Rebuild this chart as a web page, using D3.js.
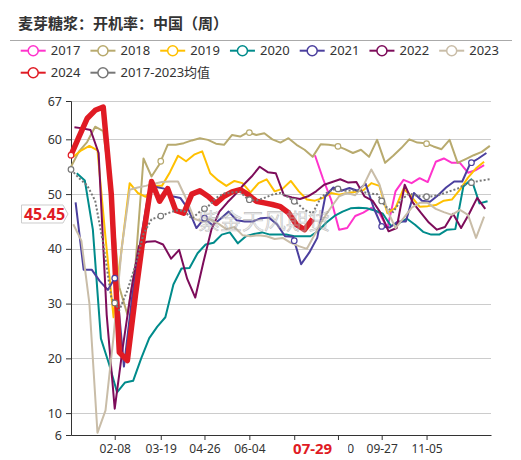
<!DOCTYPE html>
<html>
<head>
<meta charset="utf-8">
<script src="https://cdn.jsdelivr.net/npm/d3@7"></script>
<style>
  body { margin: 0; background: #fff; }
  svg { display: block; font-family: "Noto Sans", "Noto Sans CJK SC", sans-serif; }
</style>
</head>
<body>
<div id="chart"></div>
<script>
// weekly operating rate, one array per year, first report date in startDates
const seriesNames = ["2017", "2018", "2019", "2020", "2021", "2022", "2023", "2024", "2017-2023均值"];
const startDates = ["07-31", "01-01", "01-03", "01-06", "01-05", "01-04", "01-03", "01-01", "01-01"];

const v2017 = [57.1, 52.8, 49.0, 43.5, 43.8, 46.0, 46.6, 47.5, 46.5, 43.8, 50.5, 52.6, 52.0, 52.9, 52.2, 55.9,
  56.5, 55.7, 55.7, 53.9, 54.4, 55.3];
const v2018 = [55.0, 57.8, 59.5, 62.3, 61.5, 50.0, 33.0, 28.0, 37.0, 56.5, 53.2, 55.5, 59.0, 59.0, 59.3, 59.8,
  60.2, 59.9, 59.2, 59.0, 60.8, 60.5, 61.3, 60.8, 61.1, 60.0, 59.4, 60.2, 59.0, 58.1, 56.8, 59.1, 59.0, 58.8,
  58.2, 57.5, 58.1, 56.8, 59.9, 55.7, 57.0, 58.4, 60.0, 59.4, 59.3, 58.7, 58.2, 59.9, 55.7, 56.4, 57.1, 57.7, 58.8];
const v2019 = [56.8, 58.0, 58.8, 58.0, 42.0, 27.5, 40.0, 52.0, 50.2, 49.5, 51.5, 51.5, 54.0, 57.0, 56.0, 57.2,
  57.8, 53.8, 52.5, 51.5, 52.4, 52.0, 50.3, 52.0, 52.7, 50.5, 51.0, 52.4, 50.5, 49.0, 48.8, 49.3, 50.2, 49.9,
  50.2, 50.4, 50.7, 52.0, 51.5, 46.5, 47.5, 51.0, 49.5, 47.7, 47.8, 48.0, 48.8, 49.0, 50.8, 53.0, 54.7, 55.9];
const v2020 = [53.8, 52.5, 43.5, 23.6, 19.0, 13.8, 15.6, 15.9, 20.0, 23.7, 25.8, 27.5, 33.5, 36.4, 36.5, 39.2,
  40.8, 41.1, 42.6, 43.0, 41.0, 42.3, 42.7, 43.0, 42.6, 42.6, 42.6, 42.3, 42.3, 42.3, 43.3, 44.8, 46.0, 46.8,
  47.4, 47.5, 47.4, 47.0, 46.4, 44.2, 44.7, 45.5, 44.4, 43.1, 42.6, 42.6, 43.5, 43.6, 51.4, 52.7, 48.3, 48.7];
const v2021 = [48.5, 36.2, 36.2, 34.1, 32.5, 35.0, 18.5, 31.0, 41.0, 49.7, 51.3, 51.0, 49.6, 49.3, 47.2, 43.8,
  45.6, 44.3, 45.5, 46.8, 45.2, 45.0, 45.0, 45.6, 45.7, 44.5, 42.3, 42.2, 37.2, 39.3, 42.0, 49.6, 51.2, 50.6,
  51.1, 50.6, 51.9, 47.5, 44.1, 43.9, 45.0, 45.0, 50.2, 48.8, 48.6, 49.8, 51.2, 52.3, 52.3, 55.6, 56.5, 57.5];
const v2022 = [62.2, 62.0, 61.7, 57.5, 28.0, 10.8, 22.0, 32.0, 40.5, 41.3, 41.4, 40.8, 38.2, 39.8, 34.5, 31.1,
  37.5, 43.5, 46.8, 48.5, 50.0, 51.7, 53.2, 55.0, 54.0, 53.8, 49.8, 49.4, 49.1, 49.6, 50.5, 51.7, 52.2, 52.7,
  52.1, 52.2, 49.6, 48.8, 46.6, 43.2, 43.8, 51.7, 48.5, 46.6, 44.8, 43.5, 44.0, 46.4, 43.8, 46.4, 49.3, 47.3];
const v2023 = [44.5, 41.5, 30.0, 6.4, 10.5, 24.0, 40.0, 50.8, 51.2, 51.5, 51.9, 52.2, 52.3, 52.3, 49.2, 45.5,
  45.0, 45.4, 44.6, 43.6, 44.0, 42.5, 42.3, 42.5, 42.3, 41.8, 42.0, 41.1, 40.5, 40.0, 42.7, 45.4, 47.6, 49.6,
  50.2, 49.8, 51.5, 54.5, 51.8, 47.0, 43.8, 45.6, 47.5, 48.4, 48.4, 47.3, 46.7, 46.2, 47.1, 46.2, 42.0, 45.9];
const v2024 = [57.1, 60.5, 63.8, 65.3, 65.9, 50.0, 21.1, 19.6, 31.5, 42.5, 52.3, 48.7, 51.0, 47.0, 46.5, 50.0,
  50.6, 49.6, 48.3, 49.6, 50.4, 50.8, 49.9, 48.7, 48.4, 48.1, 47.7, 46.6, 44.4, 43.5, 45.45];
const vAvg = [54.5, 52.9, 51.6, 48.8, 41.0, 31.1, 28.8, 32.4, 37.0, 42.7, 45.4, 45.9, 46.5, 47.0, 47.0, 45.5,
  46.8, 47.7, 49.3, 50.1, 50.3, 50.4, 49.0, 48.8, 49.3, 49.9, 50.2, 49.4, 48.4, 47.1, 46.5, 49.3, 50.5, 51.0,
  50.6, 50.7, 50.5, 50.1, 50.0, 47.8, 46.7, 49.0, 50.1, 49.7, 49.5, 49.6, 50.0, 50.5, 51.0, 51.8, 52.2, 52.5, 52.7];

const seriesValues = [v2017, v2018, v2019, v2020, v2021, v2022, v2023, v2024, vAvg];

const xTickLabels = ["02-08", "03-19", "04-26", "06-04", "07-13", "08-20", "09-27", "11-05"];
const yTicks = [6, 10, 20, 30, 40, 50, 60, 67];

// dates where a hollow symbol is shown on a series
const symbolDates = {
  "2018": ["03-19", "06-04", "08-20", "11-05"],
  "2021": ["02-08", "04-26", "07-13", "09-27", "12-14"],
  "2024": ["01-01"],
  "2017-2023均值": ["01-01", "02-08", "03-19", "04-26", "06-04", "07-13", "08-20", "09-27", "11-05", "12-14"]
};

const latestDate = "07-29";
const latestValue = 45.45;

const colors = ["#ff33cc", "#b8aa6e", "#ffc000", "#008b8b", "#4b3f9e", "#7d0c5a", "#c9bda8", "#e01b24", "#777777"];

const W = 521, H = 460;
const margin = { left: 71, right: 30, top: 101, bottom: 25 };

const svg = d3.select("#chart").append("svg").attr("width", W).attr("height", H);
svg.append("rect").attr("width", W).attr("height", H).attr("fill", "#fff");

const parseDay = d3.timeParse("%Y-%m-%d");
const dayOf = md => parseDay("2024-" + md);

const x = d3.scaleTime()
  .domain([dayOf("01-01"), dayOf("12-31")])
  .range([margin.left, W - margin.right]);
const y = d3.scaleLinear()
  .domain([6, 67])
  .range([H - margin.bottom, margin.top]);

// title
svg.append("text")
  .attr("x", 18).attr("y", 29)
  .attr("font-family", "'Noto Sans CJK SC', sans-serif")
  .attr("font-size", 15).attr("font-weight", "bold").attr("fill", "#333")
  .text("麦芽糖浆：开机率：中国（周）");
svg.append("line")
  .attr("x1", 10).attr("x2", 512).attr("y1", 40.5).attr("y2", 40.5)
  .attr("stroke", "#aaa");

// legend
const legend = svg.append("g").attr("font-size", 13).attr("fill", "#333");
let lx = 20.7, ly = 50.7;
seriesNames.forEach((name, k) => {
  const g = legend.append("g");
  const t = g.append("text").attr("dy", "0.35em").text(name);
  const tw = t.node().getComputedTextLength();
  const itemW = 25 + 5 + tw;
  if (lx + itemW > W - 10) { lx = 20.7; ly += 22; }
  g.attr("transform", `translate(${lx},${ly})`);
  g.insert("line", "text").attr("x1", 0).attr("x2", 25)
    .attr("stroke", colors[k]).attr("stroke-width", 2);
  g.insert("circle", "text").attr("cx", 12.5).attr("r", 5)
    .attr("fill", "#fff").attr("stroke", colors[k]).attr("stroke-width", 1.5);
  t.attr("x", 30);
  lx += itemW + 10;
});

// grid
svg.append("g")
  .selectAll("line")
  .data(yTicks.filter(d => d > 6))
  .join("line")
  .attr("x1", margin.left).attr("x2", W - margin.right)
  .attr("y1", d => Math.round(y(d)) + 0.5).attr("y2", d => Math.round(y(d)) + 0.5)
  .attr("stroke", "#ccc");

// axes
const yAxis = svg.append("g")
  .attr("transform", `translate(${margin.left},0)`)
  .call(d3.axisLeft(y).tickValues(yTicks).tickSize(5).tickPadding(4).tickFormat(d3.format("d")));
yAxis.select(".domain").attr("stroke", "#333");
yAxis.selectAll(".tick line").attr("stroke", "#333");
yAxis.selectAll(".tick text").attr("fill", "#333").attr("font-size", 12.5)
  .attr("font-family", "'Noto Sans', sans-serif");

const xAxis = svg.append("g")
  .attr("transform", `translate(0,${H - margin.bottom})`)
  .call(d3.axisBottom(x).tickValues(xTickLabels.map(dayOf)).tickSize(5).tickSizeOuter(0)
    .tickPadding(4).tickFormat(d3.timeFormat("%m-%d")));
xAxis.select(".domain").attr("stroke", "#333");
xAxis.selectAll(".tick line").attr("stroke", "#333");
xAxis.selectAll(".tick text").attr("fill", "#333").attr("font-size", 12)
  .attr("font-family", "'Noto Sans', sans-serif");

// the latest-date label sits over the category labels: hide what it covers
const lxd = x(dayOf(latestDate));
const boxHalf = 35;
svg.append("clipPath").attr("id", "xlabClip")
  .append("rect")
  .attr("x", lxd + boxHalf).attr("y", -20).attr("width", W).attr("height", 60);
xAxis.selectAll(".tick").each(function (d) {
  const cx = x(d);
  const t = d3.select(this).select("text");
  const half = t.node().getComputedTextLength() / 2;
  if (cx - half >= lxd - boxHalf && cx + half <= lxd + boxHalf) t.remove();
  else if (cx - half < lxd + boxHalf && cx + half > lxd - boxHalf) {
    t.attr("clip-path", "url(#xlabClipLocal)");
    d3.select(this).append("clipPath").attr("id", "xlabClipLocal")
      .append("rect")
      .attr("x", lxd + boxHalf - cx).attr("y", -5).attr("width", 60).attr("height", 30);
  }
});

// series
const series = seriesNames.map((name, k) => ({
  name,
  color: colors[k],
  points: seriesValues[k].map((v, i) => ({ date: d3.timeDay.offset(dayOf(startDates[k]), 7 * i), value: v }))
}));

const line = d3.line().x(d => x(d.date)).y(d => y(d.value));
const plot = svg.append("g");

series.forEach(s => {
  const isAvg = s.name.includes("均值");
  const isLatest = s.name === "2024";
  plot.append("path")
    .datum(s.points)
    .attr("fill", "none")
    .attr("stroke", s.color)
    .attr("stroke-width", isLatest ? 5.5 : 2)
    .attr("stroke-dasharray", isAvg ? "2,2" : null)
    .attr("stroke-linejoin", "round")
    .attr("d", line);
});

// hollow symbols at the category label positions
function valueAt(points, date) {
  for (let i = 0; i < points.length - 1; i++) {
    const a = points[i], b = points[i + 1];
    if (date >= a.date && date <= b.date) {
      const f = (date - a.date) / (b.date - a.date);
      return a.value + f * (b.value - a.value);
    }
  }
  return points[0].value;
}
series.forEach(s => {
  (symbolDates[s.name] || []).forEach(md => {
    const dt = dayOf(md);
    plot.append("circle")
      .attr("cx", x(dt)).attr("cy", y(valueAt(s.points, dt)))
      .attr("r", 2.8)
      .attr("fill", "#fff").attr("stroke", s.color).attr("stroke-width", 1.2);
  });
});

// watermark
svg.append("text")
  .attr("x", 264).attr("y", 229)
  .attr("text-anchor", "middle")
  .attr("font-family", "'Noto Sans CJK SC', sans-serif")
  .attr("font-size", 22)
  .attr("fill", "rgba(200,200,200,0.35)")
  .attr("stroke", "rgba(150,150,150,0.55)").attr("stroke-width", 0.6)
  .text("紫金天风期货");

// latest value label on the y axis
const ly0 = y(latestValue) - 5;
const yLab = svg.append("g").attr("transform", `translate(0,${ly0})`);
yLab.append("path")
  .attr("d", "M21.5,-9 H63 L68,0 L63,9 H21.5 Z")
  .attr("fill", "#fff").attr("stroke", "#ccc");
yLab.append("text")
  .attr("x", 44.5).attr("dy", "0.36em").attr("text-anchor", "middle")
  .attr("font-size", 16).attr("font-weight", "bold").attr("fill", "#e01b24")
  .text(d3.format(".2f")(latestValue));

// latest date label on the x axis
const xLab = svg.append("g").attr("transform", `translate(${lxd},${H - margin.bottom + 14})`);
xLab.append("text")
  .attr("dy", "0.36em").attr("text-anchor", "middle")
  .attr("font-size", 15).attr("font-weight", "bold").attr("fill", "#e01b24")
  .text(latestDate);
</script>
</body>
</html>
